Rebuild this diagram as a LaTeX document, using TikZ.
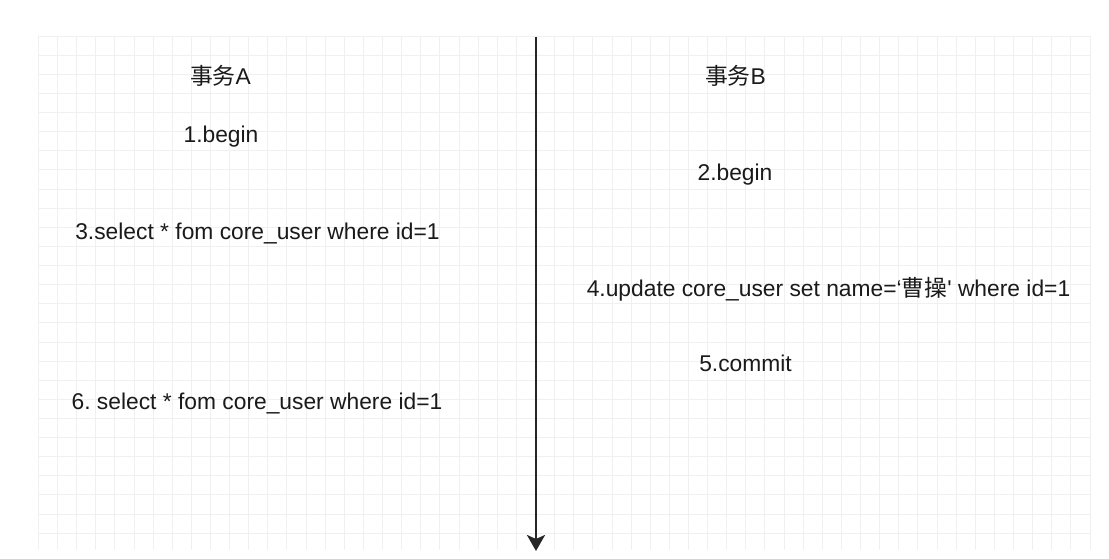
\documentclass[tikz,border=0pt]{standalone}
\usepackage{fontspec}
\setmainfont{Liberation Sans}
\newfontfamily\rawfont{Liberation Sans}
\newfontfamily\cjk{Noto Sans CJK SC}
\usetikzlibrary{arrows.meta}
\definecolor{gridc}{HTML}{F0F0F0}
\definecolor{txt}{HTML}{1A1A1A}
\frenchspacing
\begin{document}
\begin{tikzpicture}[x=1pt,y=-1pt,
  lbl/.style={anchor=base, inner sep=0pt, font=\fontsize{22.8}{27}\selectfont, text=txt},
  gridline/.style={draw=gridc, line width=0.8pt},
  timeline/.style={draw=black!85, line width=2.6pt, -{Stealth[length=16pt,width=18pt,inset=4pt]}}]
\useasboundingbox (0,0) rectangle (1109,559);
\fill[white] (0,0) rectangle (1109,559);
% grid
\foreach \i in {0,...,55} \draw[gridline] ({38.3+\i*19.12},36) -- ({38.3+\i*19.12},550);
\foreach \j in {0,...,26} \draw[gridline] (38.3,{36+\j*19.12}) -- (1090,{36+\j*19.12});
% labels
\node[lbl] (ta) at (220.5,85) {{\cjk 事务}A};
\node[lbl] (tb) at (735.5,85) {{\cjk 事务}B};
\node[lbl] (s1) at (221,143) {1.begin};
\node[lbl] (s2) at (735,181) {2.begin};
\node[lbl] (s3) at (257.5,239.5) {3.select * fom core\_user where id=1};
\node[lbl] (s4) at (828.5,296) {4.update core\_user set name=‘{\cjk 曹操}{\rawfont '} where id=1};
\node[lbl] (s5) at (745.5,371) {5.commit};
\node[lbl] (s6) at (257,409) {6. select * fom core\_user where id=1};
% time axis
\coordinate (top) at (536,37);
\coordinate (bot) at (536,551);
\draw[timeline] (top) -- (bot);
\end{tikzpicture}
\end{document}
